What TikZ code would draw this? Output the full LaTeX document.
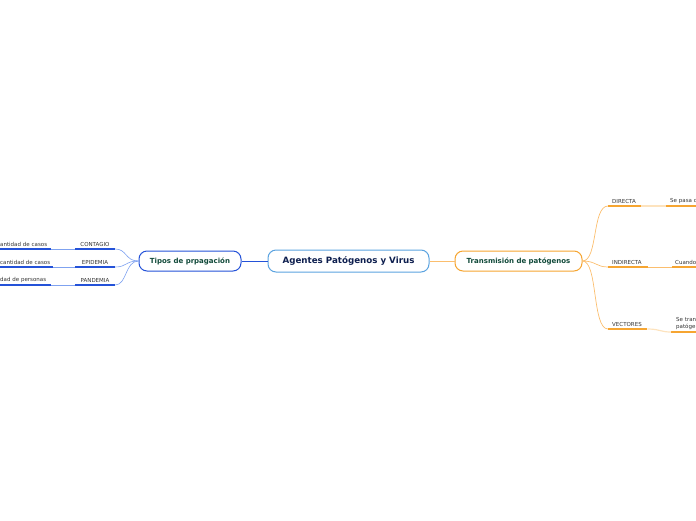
\documentclass[tikz,border=0pt]{standalone}
\usepackage{fontspec}
\setmainfont{DejaVu Sans}
\definecolor{rootB}{HTML}{5BA3E0}
\definecolor{rootT}{HTML}{0E1F4F}
\definecolor{blueD}{HTML}{2452D8}
\definecolor{blueL}{HTML}{7FA2F0}
\definecolor{orgD}{HTML}{F6A531}
\definecolor{orgL}{HTML}{FBBE6E}
\definecolor{orgP}{HTML}{FDE3BE}
\definecolor{greenT}{HTML}{114A3A}
\definecolor{leafT}{HTML}{333333}
\tikzset{
  rootbox/.style={draw=rootB, line width=1pt, rounded corners=8pt, fill=white,
    minimum width=161pt, minimum height=22pt, inner sep=0pt,
    font=\bfseries\fontsize{8.7}{10}\selectfont, text=rootT},
  mainbox/.style={line width=1pt, rounded corners=8pt, fill=white,
    minimum height=20pt, inner sep=0pt,
    font=\bfseries\fontsize{7}{8}\selectfont, text=greenT},
  leafC/.style={inner sep=0pt, minimum height=9pt, align=center,
    font=\fontsize{5.5}{6.5}\selectfont, text=leafT},
  leafL/.style={inner sep=0pt, minimum height=9pt, align=left,
    font=\fontsize{5.5}{6.5}\selectfont, text=leafT},
  ulB/.style={draw=blueD, line width=1.6pt},
  ulO/.style={draw=orgD, line width=1.6pt},
  connB/.style={draw=blueL, line width=0.6pt},
  connO/.style={draw=orgL, line width=0.7pt},
}
\begin{document}
\begin{tikzpicture}[x=1pt,y=-1pt]
\useasboundingbox (0,0) rectangle (696,520);
% main nodes
\node[rootbox] (root) at (348.5,261) {Agentes Patógenos y Virus};
\node[mainbox, draw=blueD, minimum width=102pt] (tipos) at (190,261) {Tipos de prpagación};
\node[mainbox, draw=orgD, minimum width=127pt] (trans) at (518.5,261) {Transmisión de patógenos};
\draw[draw=blueD, line width=0.6pt] (root.west) -- (tipos.east);
\draw[draw=orgL, line width=0.8pt] (root.east) -- (trans.west);
% left leaves
\node[leafC, text width=40pt, anchor=south] (contagio) at (95,249) {CONTAGIO};
\node[leafC, text width=40pt, anchor=south] (epidemia) at (95,267) {EPIDEMIA};
\node[leafC, text width=40pt, anchor=south] (pandemia) at (95,285) {PANDEMIA};
\node[leafL, text width=51pt, anchor=south west] (c1) at (0,249) {antidad de casos};
\node[leafL, text width=53pt, anchor=south west] (c2) at (0,267) {cantidad de casos};
\node[leafL, text width=51pt, anchor=south west] (c3) at (0,285) {dad de personas};
\foreach \n in {contagio,epidemia,pandemia,c1,c2,c3}
  \draw[ulB] (\n.south west) -- (\n.south east);
\draw[connB] (tipos.west) .. controls (125,261) and (127,249) .. (contagio.south east);
\draw[connB] (tipos.west) .. controls (125,261) and (127,267) .. (epidemia.south east);
\draw[connB] (tipos.west) .. controls (125,261) and (127,285) .. (pandemia.south east);
\draw[connB] (contagio.south west) -- (c1.south east);
\draw[connB] (epidemia.south west) -- (c2.south east);
\draw[connB] (pandemia.south west) -- (c3.south east);
% right leaves
\node[leafL, text width=33pt, anchor=south west] (directa) at (608,206) {\hspace{4pt}DIRECTA};
\node[leafL, text width=40pt, anchor=south west] (indirecta) at (608,267) {\hspace{4pt}INDIRECTA};
\node[leafL, text width=39pt, anchor=south west] (vectores) at (608,329) {\hspace{4pt}VECTORES};
\node[leafL, text width=45pt, anchor=south west] (d1) at (666,206) {\hspace{4pt}Se pasa d};
\node[leafL, text width=40pt, anchor=south west] (i1) at (672,267) {\hspace{3pt}Cuando};
\node[leafL, text width=40pt, anchor=south west, minimum height=17pt] (v1) at (671,332) {\hspace{5pt}Se tran\\\hspace{5pt}patóge};
\foreach \n in {directa,indirecta,vectores,d1,i1,v1}
  \draw[ulO] (\n.south west) -- (\n.south east);
\draw[connO] (trans.east) .. controls (598,261) and (592,206) .. (directa.south west);
\draw[connO] (trans.east) .. controls (596,261) and (596,267) .. (indirecta.south west);
\draw[connO] (trans.east) .. controls (598,261) and (592,329) .. (vectores.south west);
\draw[draw=orgP, line width=1.6pt] (directa.south east) -- (d1.south west);
\draw[connO] (indirecta.south east) -- (i1.south west);
\draw[draw=orgP, line width=1.2pt] (vectores.south east) .. controls (660,329) and (660,332) .. (v1.south west);
\end{tikzpicture}
\end{document}
